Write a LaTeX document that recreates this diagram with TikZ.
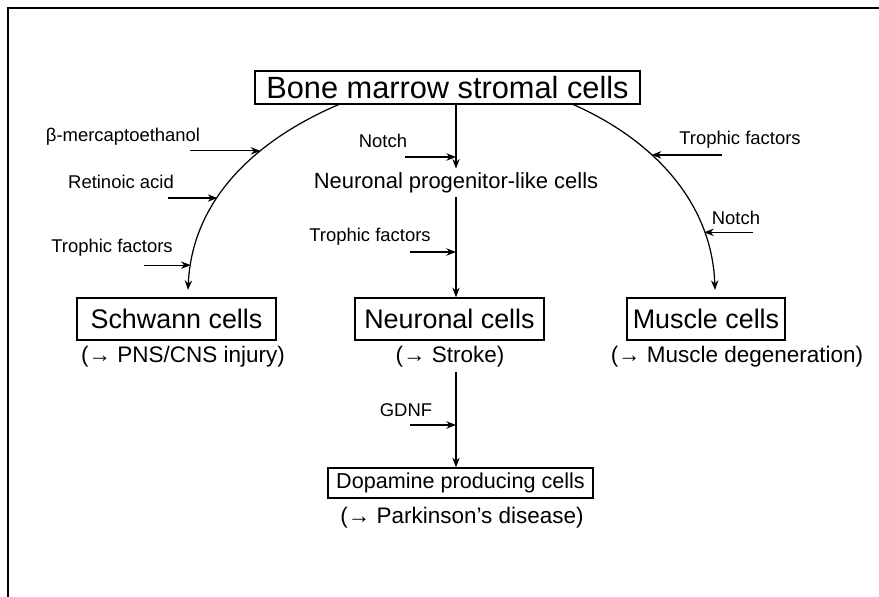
\documentclass[tikz,border=0pt]{standalone}
\usepackage{fontspec}
\setmainfont{Liberation Sans}
\usepackage{tikz}
\usetikzlibrary{arrows.meta,calc}

\begin{document}
\begin{tikzpicture}[x=0.02cm, y=-0.02cm, >={Stealth[length=5.5pt,width=4.2pt]}, line width=0.7pt,
    cellbox/.style={draw, line width=0.8pt, inner sep=0pt, minimum height=0.84cm, font=\fontsize{15.3}{18}\selectfont},
    note/.style={inner sep=2pt, font=\fontsize{12.8}{15}\selectfont},
    tag/.style={inner sep=1pt, font=\fontsize{10.5}{12}\selectfont}]
    \useasboundingbox (0,0) rectangle (879,597);

    % Frame
    \draw[line width=1.1pt] (8,597) -- (8,8) -- (879,8);

    % Source cells
    \node[cellbox, minimum width=7.7cm, minimum height=0.66cm, font=\fontsize{17.5}{20}\selectfont] (bmsc) at (447.5,87.5) {Bone marrow stromal cells};

    % Middle branch
    \node[note, font=\fontsize{12.5}{15}\selectfont] (prog) at (456,183) {Neuronal progenitor-like cells};
    \draw[->] (bmsc.south -| prog) -- (prog.north);
    \coordinate (mnotch) at (405,157);
    \draw[->] (mnotch) -- (mnotch -| prog);
    \node[tag] (tnotch) at (383,141) {Notch};

    % Target cells
    \node[cellbox, minimum width=3.98cm] (schwann) at (176.5,319) {Schwann cells};
    \node[cellbox, minimum width=3.78cm] (neuron) at (449.5,319) {Neuronal cells};
    \node[cellbox, minimum width=3.16cm] (muscle) at (706,319) {Muscle cells};
    \node[note] (pns) at (183,357) {(→ PNS/CNS injury)};
    \node[note] (stroke) at (450,357) {(→ Stroke)};
    \node[note] (degen) at (737,357) {(→ Muscle degeneration)};

    \draw[->] (prog.south) -- (prog.south |- neuron.north);
    \coordinate (mtroph) at (410,252);
    \draw[->] (mtroph) -- (mtroph -| prog);
    \node[tag] (ttroph) at (370,237) {Trophic factors};

    % Left branch
    \coordinate (lstart) at (340,104);
    \coordinate (lend) at (188,290);
    \draw[->] (lstart) .. controls (255,140) and (192,200) .. (lend)
        coordinate[pos=0.35] (l1) coordinate[pos=0.61] (l2) coordinate[pos=0.905] (l3);
    \draw[->] ($(l1)+(-70,0)$) -- (l1);
    \draw[->] ($(l2)+(-49,0)$) -- (l2);
    \draw[->] ($(l3)+(-47,0)$) -- (l3);
    \node[tag] (tmerc) at (123,137) {β-mercaptoethanol};
    \node[tag] (tretin) at (121,182) {Retinoic acid};
    \node[tag] (tltroph) at (112,248) {Trophic factors};

    % Right branch
    \coordinate (rstart) at (572,104);
    \coordinate (rend) at (715,290);
    \draw[->] (rstart) .. controls (650,138) and (712,200) .. (rend)
        coordinate[pos=0.38] (r1) coordinate[pos=0.77] (r2);
    \draw[->] ($(r1)+(70,0)$) -- (r1);
    \draw[->] ($(r2)+(49,0)$) -- (r2);
    \node[tag] (trtroph) at (740,140) {Trophic factors};
    \node[tag] (trnotch) at (736,218) {Notch};

    % Dopamine cells
    \node[cellbox, minimum width=5.3cm, minimum height=0.6cm, font=\fontsize{12.3}{15}\selectfont] (dopa) at (460.5,483) {Dopamine producing cells};
    \node[note] (park) at (462,518) {(→ Parkinson’s disease)};
    \draw[->] (stroke.south -| prog) -- (dopa.north -| prog);
    \coordinate (gdnf) at (410,425);
    \draw[->] (gdnf) -- (gdnf -| prog);
    \node[tag] (tgdnf) at (406,410) {GDNF};
\end{tikzpicture}
\end{document}
